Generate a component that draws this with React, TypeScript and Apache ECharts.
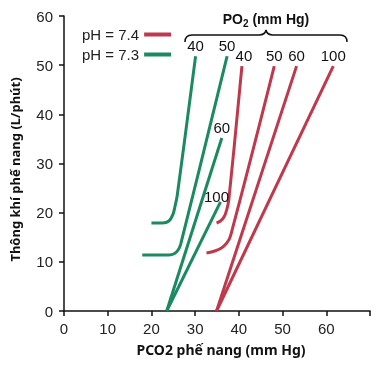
import React, { useEffect, useRef } from "react";
import * as echarts from "echarts";

// pH 7.3 (green) curves, [PCO2, ventilation]
const green40: number[][] = [[20, 17.9], [22.5, 17.9], [24, 18.3], [24.9, 19.6], [25.4, 21.3], [25.9, 23.5], [30.1, 51.8]];
const green50: number[][] = [[17.9, 11.4], [24, 11.4], [25.3, 11.7], [26.1, 12.4], [26.7, 13.6], [37.3, 51.8]];
const green60: number[][] = [[23.5, 0], [36.1, 35.2]];
const green100: number[][] = [[23.5, 0], [35.8, 22.2]];
// pH 7.4 (red) curves
const red40: number[][] = [[34.9, 17.9], [35.8, 18.3], [36.6, 19.1], [37.2, 20.5], [37.7, 22.6], [40.7, 49.8]];
const red50: number[][] = [[32.6, 11.8], [34.5, 12.2], [36, 12.8], [37.2, 13.8], [38.1, 15.3], [48.1, 49.8]];
const red60: number[][] = [[34.9, 0], [53.2, 49.8]];
const red100: number[][] = [[34.9, 0], [61.6, 49.8]];

const legendNames = ["pH = 7.4", "pH = 7.3"];
const xTicks = [0, 10, 20, 30, 40, 50, 60];

const RED = "#c0384c";
const GREEN = "#1b8a60";
const FONT = "Liberation Sans, Arial, sans-serif";

echarts.graphic.registerShape(
  "brace",
  echarts.graphic.extendPath(
    "M185 42 Q185 35 192 35 L259 35 Q265 35 266 30 Q267 35 273 35 L340 35 Q347 35 347 42",
    {}
  )
);

function mkSeries(name: string, color: string, pts: number[][], label: string, offset: number[], smooth: boolean) {
  const data: any[] = pts.map((p, i) => {
    if (i === pts.length - 1) {
      return {
        value: p,
        label: {
          show: true,
          formatter: label,
          position: "top",
          distance: 3,
          offset,
          color: "#111",
          fontSize: 15,
          fontFamily: FONT,
        },
      };
    }
    return { value: p };
  });
  return {
    type: "line",
    name,
    data,
    smooth: smooth ? 0.35 : false,
    showSymbol: true,
    symbol: "circle",
    symbolSize: 0,
    lineStyle: { color, width: 3 },
    itemStyle: { color },
    label: { show: false },
  };
}

export default function App() {
  const ref = useRef<HTMLDivElement>(null);
  useEffect(() => {
    const chart = echarts.init(ref.current!, null, { renderer: "svg" });
    chart.setOption({
      animation: false,
      grid: { left: 60, right: 11, top: 16, bottom: 57, containLabel: false },
      legend: {
        data: legendNames.map((n) => ({ name: n })),
        orient: "vertical",
        left: 77,
        top: 22,
        align: "right",
        icon: "rect",
        itemWidth: 27,
        itemHeight: 4,
        itemGap: 5,
        textStyle: { fontSize: 15, fontFamily: FONT, color: "#222" },
      },
      xAxis: {
        type: "value",
        min: 0,
        max: 70,
        interval: 10,
        name: "PCO2 phế nang (mm Hg)",
        nameLocation: "middle",
        nameGap: 31,
        nameTextStyle: { fontSize: 14, fontWeight: "bold", fontFamily: "Noto Sans, Open Sans, sans-serif", color: "#111", padding: [0, 0, 0, 8] },
        axisLine: { lineStyle: { color: "#111", width: 1.5 } },
        axisTick: { show: true, length: 5, lineStyle: { color: "#111", width: 1.5 } },
        axisLabel: {
          margin: 10,
          fontSize: 15,
          fontFamily: FONT,
          color: "#222",
          formatter: (v: number) => (xTicks.includes(v) ? String(v) : ""),
        },
        splitLine: { show: false },
      },
      yAxis: {
        type: "value",
        min: 0,
        max: 60,
        interval: 10,
        name: "Thông khí phế nang (L/phút)",
        nameLocation: "middle",
        nameGap: 43,
        nameRotate: 90,
        nameTextStyle: { fontSize: 13, fontWeight: "bold", fontFamily: "Noto Sans, Open Sans, sans-serif", color: "#111", padding: [0, 12, 0, 0] },
        axisLine: { show: true, lineStyle: { color: "#111", width: 1.5 } },
        axisTick: { show: true, length: 5, lineStyle: { color: "#111", width: 1.5 } },
        axisLabel: { margin: 11, fontSize: 15, fontFamily: FONT, color: "#222" },
        splitLine: { show: false },
      },
      graphic: [
        {
          type: "brace",
          x: 0,
          y: 0,
          style: { fill: "none", stroke: "#111", lineWidth: 1.5 },
        },
        {
          type: "text",
          x: 266,
          y: 19,
          style: {
            text: "{a|PO}{b|2}{a| (mm Hg)}",
            textAlign: "center",
            textVerticalAlign: "middle",
            rich: {
              a: { fontSize: 14, fontWeight: "bold", fontFamily: FONT, fill: "#111" },
              b: { fontSize: 10, fontWeight: "bold", fontFamily: FONT, fill: "#111", padding: [8, 0, 0, 0] },
            },
          },
        },
      ],
      series: [
        mkSeries(legendNames[0], RED, red40, "40", [2, 0], true),
        mkSeries(legendNames[0], RED, red50, "50", [0, 0], true),
        mkSeries(legendNames[0], RED, red60, "60", [0, 0], false),
        mkSeries(legendNames[0], RED, red100, "100", [0, 0], false),
        mkSeries(legendNames[1], GREEN, green40, "40", [0, 0], true),
        mkSeries(legendNames[1], GREEN, green50, "50", [0, 0], true),
        mkSeries(legendNames[1], GREEN, green60, "60", [0, 0], false),
        mkSeries(legendNames[1], GREEN, green100, "100", [-4, 5], false),
      ],
    });
    return () => chart.dispose();
  }, []);
  return <div ref={ref} style={{ width: 381, height: 368, position: "fixed", left: 0, top: 0 }} />;
}
